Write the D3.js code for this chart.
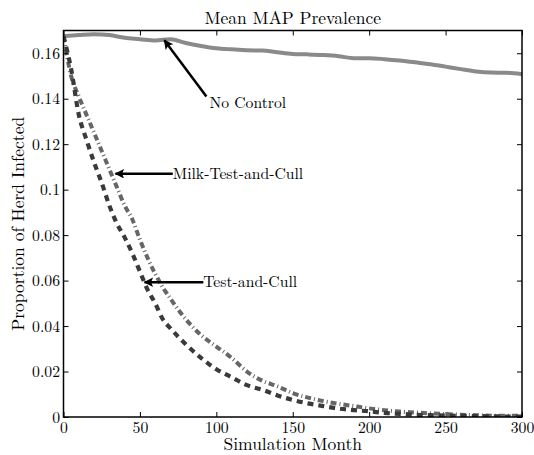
<!DOCTYPE html>
<html>
<head>
  <meta charset="utf-8">
  <script src="https://cdn.jsdelivr.net/npm/d3@7"></script>
  <style>
    body { margin: 0; background: #fff; }
  </style>
</head>
<body>
<div id="chart"></div>
<script>
  // months shared by the two control strategies
  var months = [0, 5, 10, 15, 20, 25, 30, 35, 40, 45, 50, 55, 60, 65, 70, 80, 90, 100, 110, 120,
    130, 140, 150, 160, 170, 180, 190, 200, 210, 220, 230, 240, 250, 260, 270, 280, 290, 300];
  var testAndCull = [0.1675, 0.153, 0.133, 0.122, 0.112, 0.103, 0.093, 0.085, 0.079, 0.072, 0.064, 0.056,
    0.050, 0.043, 0.039, 0.032, 0.026, 0.021, 0.0175, 0.014, 0.012, 0.0095, 0.0075, 0.006, 0.0048, 0.0037,
    0.003, 0.0025, 0.0018, 0.0014, 0.001, 0.0008, 0.0006, 0.0005, 0.0004, 0.0003, 0.0002, 0.0002];
  var milkTestAndCull = [0.1675, 0.150, 0.141, 0.133, 0.125, 0.117, 0.109, 0.101, 0.093, 0.087, 0.078, 0.070,
    0.063, 0.057, 0.052, 0.043, 0.036, 0.031, 0.026, 0.020, 0.016, 0.0135, 0.0105, 0.0085, 0.007, 0.0058,
    0.0048, 0.0038, 0.003, 0.0024, 0.002, 0.0016, 0.0013, 0.001, 0.0008, 0.0006, 0.0005, 0.0005];

  // no control, read every 10 months
  var ncMonths = d3.range(0, 301, 10);
  var noControl = [0.1675, 0.168, 0.1684, 0.168, 0.1668, 0.1662, 0.1656, 0.1662, 0.1645, 0.1632, 0.1622,
    0.1617, 0.1613, 0.1612, 0.1604, 0.1597, 0.1595, 0.1592, 0.1587, 0.1578, 0.1578, 0.1574, 0.1568,
    0.156, 0.1552, 0.1541, 0.153, 0.152, 0.1515, 0.1514, 0.1508];

  var xTicks = [0, 50, 100, 150, 200, 250, 300];
  var yTicks = [0, 0.02, 0.04, 0.06, 0.08, 0.1, 0.12, 0.14, 0.16];

  // annotations: [label, tip month, tip value, tail month, tail value, text month, text value]
  var notes = [
    ["No Control", 66, 0.1657, 93.5, 0.141, 95.5, 0.138],
    ["Milk-Test-and-Cull", 34, 0.107, 71.5, 0.107, 71.5, 0.107],
    ["Test-and-Cull", 53, 0.0593, 91.5, 0.0593, 91.5, 0.0593]
  ];

  var width = 534, height = 455;
  var margin = {top: 30.5, right: 12, bottom: 38, left: 63.5};
  var font = "'Latin Modern Roman', 'Liberation Serif', serif";
  var fsTick = 15.7, fsNote = 15.7, fsLabel = 17.5;

  var svg = d3.select("#chart").append("svg")
    .attr("width", width).attr("height", height);

  var x = d3.scaleLinear().domain([0, 300]).range([margin.left, width - margin.right]);
  var y = d3.scaleLinear().domain([0, 0.17]).range([height - margin.bottom, margin.top]);

  var defs = svg.append("defs");
  defs.append("marker")
    .attr("id", "head")
    .attr("viewBox", "0 0 10 10")
    .attr("refX", 9).attr("refY", 5)
    .attr("markerWidth", 5).attr("markerHeight", 3.8)
    .attr("markerUnits", "strokeWidth")
    .attr("orient", "auto")
    .append("path").attr("d", "M0,0L10,5L0,10L2,5z").attr("fill", "#000");
  defs.append("clipPath").attr("id", "clip").append("rect")
    .attr("x", x(0)).attr("y", y(0.17))
    .attr("width", x(300) - x(0)).attr("height", y(0) - y(0.17));

  var line = d3.line().x(function (d) { return x(d[0]); }).y(function (d) { return y(d[1]); })
    .curve(d3.curveMonotoneX);

  var plot = svg.append("g").attr("clip-path", "url(#clip)");

  plot.append("path")
    .datum(d3.zip(ncMonths, noControl))
    .attr("d", line)
    .attr("fill", "none").attr("stroke", "#8a8a8a").attr("stroke-width", 4);

  plot.append("path")
    .datum(d3.zip(months, milkTestAndCull))
    .attr("d", line)
    .attr("fill", "none").attr("stroke", "#666").attr("stroke-width", 4)
    .attr("stroke-dasharray", "6,3,1,3");

  plot.append("path")
    .datum(d3.zip(months, testAndCull))
    .attr("d", line)
    .attr("fill", "none").attr("stroke", "#3a3a3a").attr("stroke-width", 4.2)
    .attr("stroke-dasharray", "6,5");

  // axes, ticks on every side pointing inwards
  var axBottom = svg.append("g").attr("transform", "translate(0," + y(0) + ")")
    .call(d3.axisBottom(x).tickValues(xTicks).tickSizeInner(-5).tickSizeOuter(0).tickPadding(5));
  var axTop = svg.append("g").attr("transform", "translate(0," + y(0.17) + ")")
    .call(d3.axisTop(x).tickValues(xTicks).tickSizeInner(-5).tickSizeOuter(0).tickFormat(""));
  var axLeft = svg.append("g").attr("transform", "translate(" + x(0) + ",0)")
    .call(d3.axisLeft(y).tickValues(yTicks).tickSizeInner(-5).tickSizeOuter(0).tickPadding(3.5)
      .tickFormat(function (d) { return String(+d.toFixed(2)); }));
  var axRight = svg.append("g").attr("transform", "translate(" + x(300) + ",0)")
    .call(d3.axisRight(y).tickValues(yTicks).tickSizeInner(-5).tickSizeOuter(0).tickFormat(""));

  [axBottom, axTop, axLeft, axRight].forEach(function (g) {
    g.select(".domain").remove();
    g.selectAll("line").attr("stroke", "#000");
    g.selectAll("text").attr("font-size", fsTick).attr("fill", "#000")
      .style("font-family", font);
  });

  svg.append("rect")
    .attr("x", x(0)).attr("y", y(0.17))
    .attr("width", x(300) - x(0)).attr("height", y(0) - y(0.17))
    .attr("fill", "none").attr("stroke", "#000").attr("stroke-width", 1.5);

  // annotations
  notes.forEach(function (n) {
    svg.append("line")
      .attr("x1", x(n[3])).attr("y1", y(n[4]))
      .attr("x2", x(n[1])).attr("y2", y(n[2]))
      .attr("stroke", "#000").attr("stroke-width", 2.5)
      .attr("marker-end", "url(#head)");
    svg.append("text")
      .attr("x", x(n[5])).attr("y", y(n[6]))
      .attr("dy", "0.33em")
      .attr("font-size", fsNote).style("font-family", font)
      .text(n[0]);
  });

  svg.append("text")
    .attr("x", (x(0) + x(300)) / 2).attr("y", 24)
    .attr("text-anchor", "middle").attr("font-size", fsLabel).style("font-family", font)
    .text("Mean MAP Prevalence");

  svg.append("text")
    .attr("x", (x(0) + x(300)) / 2).attr("y", 450)
    .attr("text-anchor", "middle").attr("font-size", fsLabel).style("font-family", font)
    .text("Simulation Month");

  svg.append("text")
    .attr("transform", "translate(24," + ((y(0) + y(0.17)) / 2) + ") rotate(-90)")
    .attr("text-anchor", "middle").attr("font-size", fsLabel).style("font-family", font)
    .text("Proportion of Herd Infected");
</script>
</body>
</html>
